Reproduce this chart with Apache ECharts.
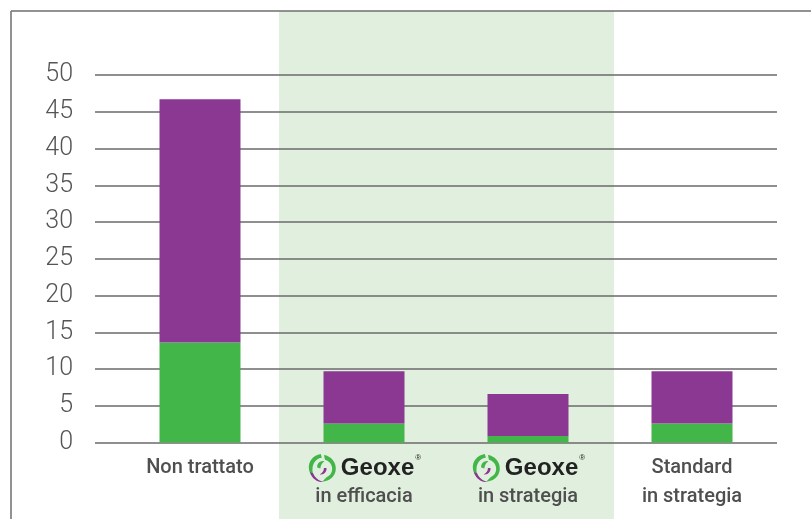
<!DOCTYPE html>
<html>
<head>
<meta charset="utf-8">
<script src="https://cdn.jsdelivr.net/npm/echarts@6/dist/echarts.min.js"></script>
<style>html,body{margin:0;padding:0;background:#fff}#c{width:811px;height:519px}</style>
</head>
<body>
<div id="c"></div>
<script>
const categories = ['Non trattato', 'Geoxe\nin efficacia', 'Geoxe\nin strategia', 'Standard\nin strategia'];
const greenValues = [13.6, 2.6, 0.9, 2.6];
const purpleValues = [33.1, 7.1, 5.7, 7.1];
const yTicks = [0, 5, 10, 15, 20, 25, 30, 35, 40, 45, 50];

const logoSvg = '<svg xmlns="http://www.w3.org/2000/svg" width="60" height="60" viewBox="0 0 60 60">' +
  '<path d="M27 3 C12 5 2 18 4 32 C5 41 11 48 18 51 C12 44 10 37 11 30 C12 19 19 11 29 10 Z" fill="#43b649"/>' +
  '<path d="M33 5 C47 7 57 19 56 33 C55 46 44 56 30 56 L38 48 C45 45 49 39 49 32 C49 23 43 16 35 14 Z" fill="#43b649"/>' +
  '<path d="M6 38 C10 51 21 58 33 57 C23 55 15 48 12 40 Z" fill="#8b3893"/>' +
  '<path d="M20 29 C19 21 27 15 34 17 C30 20 27 24 26 31 Z" fill="#43b649"/>' +
  '<path d="M38 30 C39 38 32 44 25 42 C30 40 33 36 33 30 Z" fill="#8b3893"/>' +
  '</svg>';
const logoUri = 'data:image/svg+xml;charset=utf-8,' + encodeURIComponent(logoSvg);

const chart = echarts.init(document.getElementById('c'), null, {renderer: 'canvas'});

const labelFont = "Roboto, sans-serif";

chart.setOption({
  animation: false,
  backgroundColor: '#fff',
  graphic: [
    {type: 'rect', z: -10, shape: {x: 279, y: 11, width: 335, height: 508}, style: {fill: '#e1f0de'}},
    {type: 'line', z: 100, shape: {x1: 11, y1: 11, x2: 811, y2: 11}, style: {stroke: '#6e6e6e', lineWidth: 1.5}},
    {type: 'line', z: 100, shape: {x1: 11, y1: 11, x2: 11, y2: 519}, style: {stroke: '#6e6e6e', lineWidth: 1.5}}
  ],
  grid: [
    {left: 95, right: 34, top: 75, bottom: 76.5},
    {left: 118, right: 37, top: 75, bottom: 76.5}
  ],
  xAxis: [
    {gridIndex: 0, type: 'value', min: 0, max: 1, show: false},
    {
      gridIndex: 1, type: 'category', data: categories,
      axisLine: {show: false}, axisTick: {show: false},
      axisLabel: {
        margin: 11, interval: 0, hideOverlap: false,
        formatter: function (v) {
          if (v.indexOf('Geoxe') === 0) {
            const second = v.split('\n')[1];
            return '{logo|}{geo|Geoxe}{reg|®}\n{t|' + second + '}';
          }
          return v.split('\n').map(s => '{t|' + s + '}').join('\n');
        },
        rich: {
          t: {fontFamily: labelFont, fontWeight: 500, fontSize: 20, color: '#4f4f4f', lineHeight: 29},
          logo: {width: 31, height: 31, backgroundColor: {image: logoUri}, lineHeight: 29},
          geo: {fontFamily: "'Liberation Sans', sans-serif", fontWeight: 'bold', fontSize: 24, color: '#222', lineHeight: 29, padding: [0, 0, 0, 3]},
          reg: {fontFamily: "'Liberation Sans', sans-serif", fontSize: 8, color: '#222', verticalAlign: 'top', lineHeight: 29, padding: [0, 0, 12, 1]}
        }
      }
    }
  ],
  yAxis: [
    {
      gridIndex: 0, type: 'value', min: 0, max: 50, interval: 5,
      axisLine: {show: false}, axisTick: {show: false},
      axisLabel: {
        margin: 22, fontFamily: 'Roboto', fontWeight: 300, fontSize: 25, color: '#555',
        formatter: function (v) { return yTicks.indexOf(v) >= 0 ? String(v) : ''; }
      },
      splitLine: {show: true, lineStyle: {color: '#6a6a6a', width: 1.5}}
    },
    {gridIndex: 1, type: 'value', min: 0, max: 50, interval: 5, show: false, splitLine: {show: false}}
  ],
  series: [
    {type: 'bar', xAxisIndex: 1, yAxisIndex: 1, stack: 's', barWidth: 81, data: greenValues, itemStyle: {color: '#43b649'}, z: 5},
    {type: 'bar', xAxisIndex: 1, yAxisIndex: 1, stack: 's', barWidth: 81, data: purpleValues, itemStyle: {color: '#8b3893'}, z: 5}
  ]
});
</script>
</body>
</html>
